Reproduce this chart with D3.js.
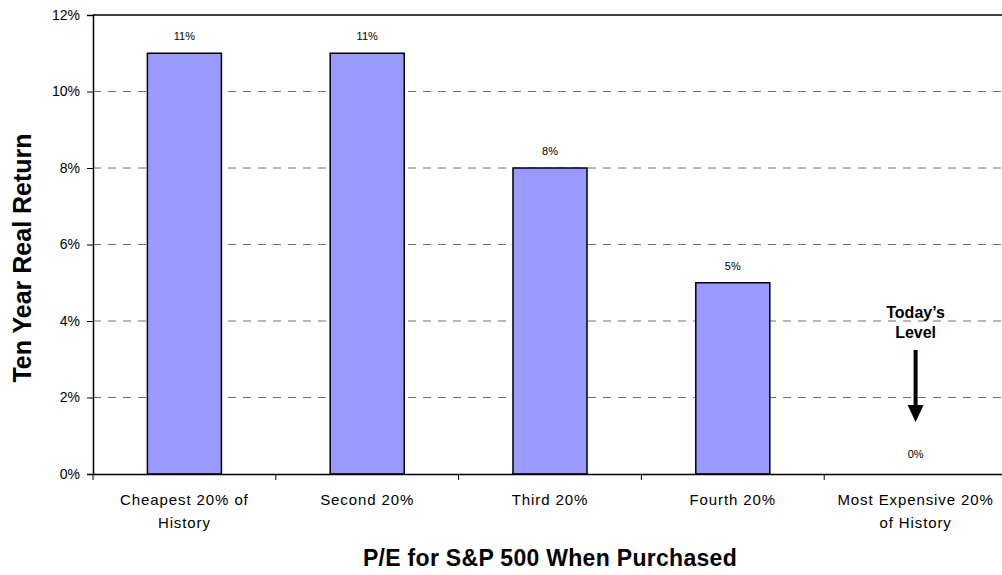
<!DOCTYPE html>
<html lang="en">
<head>
    <meta charset="UTF-8">
    <title>Ten Year Real Return by P/E</title>
    <script src="https://d3js.org/d3.v7.min.js"></script>
    <style>
        body { margin: 0; background: #fff; }
        svg { display: block; }
        text { font-family: "Liberation Sans", Arial, sans-serif; fill: #000; }
    </style>
</head>
<body>
    <svg width="1002" height="575"></svg>
    <script>
        // categories (two label lines each) and values
        const categories = ["Cheapest 20% of History", "Second 20%", "Third 20%", "Fourth 20%", "Most Expensive 20% of History"];
        const categoryLines = [["Cheapest 20% of", "History"], ["Second 20%"], ["Third 20%"], ["Fourth 20%"], ["Most Expensive 20%", "of History"]];
        const returns = [11, 11, 8, 5, 0];
        const yTicks = [0, 2, 4, 6, 8, 10, 12];

        const svg = d3.select("svg");
        const margin = { left: 93, top: 15, right: 1007, bottom: 474 };

        const x = d3.scaleBand()
            .domain(categories)
            .range([margin.left, margin.right])
            .paddingInner(0.595)
            .paddingOuter(0.2975);

        const xOuter = d3.scaleBand()
            .domain(categories)
            .range([margin.left, margin.right]);

        const y = d3.scaleLinear()
            .domain([0, 12])
            .range([margin.bottom, margin.top]);

        // dashed gridlines
        svg.append("g")
            .selectAll("line")
            .data(yTicks.filter(d => d > 0 && d < 12))
            .enter()
            .append("line")
            .attr("x1", margin.left)
            .attr("x2", margin.right)
            .attr("y1", d => y(d))
            .attr("y2", d => y(d))
            .attr("stroke", "#707070")
            .attr("stroke-width", 1)
            .attr("stroke-dasharray", "8,7");

        // top border
        svg.append("line")
            .attr("x1", margin.left).attr("x2", margin.right)
            .attr("y1", y(12)).attr("y2", y(12))
            .attr("stroke", "#000").attr("stroke-width", 1.5);

        // bars
        svg.append("g")
            .selectAll("rect")
            .data(returns)
            .enter()
            .append("rect")
            .attr("x", (d, i) => x(categories[i]))
            .attr("width", x.bandwidth())
            .attr("y", d => y(d))
            .attr("height", d => y(0) - y(d))
            .attr("fill", d => d > 0 ? "#9999ff" : "none")
            .attr("stroke", d => d > 0 ? "#000" : "none")
            .attr("stroke-width", 1.5);

        // value labels
        svg.append("g")
            .selectAll("text")
            .data(returns)
            .enter()
            .append("text")
            .attr("x", (d, i) => x(categories[i]) + x.bandwidth() / 2)
            .attr("y", d => y(d) - (d > 0 ? 13 : 16))
            .attr("text-anchor", "middle")
            .attr("font-size", 11)
            .text(d => d + "%");

        // y axis
        const yAxis = svg.append("g")
            .attr("transform", `translate(${margin.left},0)`)
            .call(d3.axisLeft(y).tickValues(yTicks).tickFormat(d => d + "%").tickSize(6).tickPadding(7));
        yAxis.select(".domain").attr("stroke", "#000").attr("stroke-width", 1.5);
        yAxis.selectAll(".tick line").attr("stroke", "#000");
        yAxis.selectAll(".tick text").attr("font-size", 14).attr("font-family", "Liberation Sans, Arial, sans-serif");

        // x axis
        const xAxis = svg.append("g")
            .attr("transform", `translate(0,${margin.bottom})`)
            .call(d3.axisBottom(xOuter).tickSize(0).tickFormat(""));
        xAxis.select(".domain").attr("stroke", "#000").attr("stroke-width", 1.5);
        xAxis.selectAll(".tick").remove();

        // category boundary ticks
        svg.append("g")
            .selectAll("line")
            .data(categories)
            .enter()
            .append("line")
            .attr("x1", d => xOuter(d))
            .attr("x2", d => xOuter(d))
            .attr("y1", margin.bottom)
            .attr("y2", margin.bottom + 6)
            .attr("stroke", "#000");

        // category labels
        const catLabels = svg.append("g")
            .selectAll("text")
            .data(categories)
            .enter()
            .append("text")
            .attr("x", d => xOuter(d) + xOuter.bandwidth() / 2)
            .attr("y", 505)
            .attr("text-anchor", "middle")
            .attr("font-size", 15)
            .attr("letter-spacing", 0.9);
        catLabels.selectAll("tspan")
            .data((d, i) => categoryLines[i])
            .enter()
            .append("tspan")
            .attr("x", function () { return d3.select(this.parentNode).attr("x"); })
            .attr("dy", (d, i) => i === 0 ? 0 : 23)
            .text(d => d);

        // axis titles
        svg.append("text")
            .attr("x", 550)
            .attr("y", 566)
            .attr("text-anchor", "middle")
            .attr("font-size", 23)
            .attr("font-weight", "bold")
            .attr("letter-spacing", 0.3)
            .text("P/E for S&P 500 When Purchased");

        svg.append("text")
            .attr("transform", "translate(31,258) rotate(-90)")
            .attr("text-anchor", "middle")
            .attr("font-size", 25)
            .attr("font-weight", "bold")
            .text("Ten Year Real Return");

        // "Today's Level" annotation
        const ax = x(categories[4]) + x.bandwidth() / 2;
        svg.append("text")
            .attr("x", ax)
            .attr("y", 318)
            .attr("text-anchor", "middle")
            .attr("font-size", 16)
            .attr("font-weight", "bold")
            .text("Today\u2019s");
        svg.append("text")
            .attr("x", ax)
            .attr("y", 338)
            .attr("text-anchor", "middle")
            .attr("font-size", 16)
            .attr("font-weight", "bold")
            .text("Level");
        svg.append("line")
            .attr("x1", ax).attr("x2", ax)
            .attr("y1", 350).attr("y2", 408)
            .attr("stroke", "#000").attr("stroke-width", 4);
        svg.append("path")
            .attr("d", `M${ax - 8},405 L${ax + 8},405 L${ax},422 Z`)
            .attr("fill", "#000");
    </script>
</body>
</html>
